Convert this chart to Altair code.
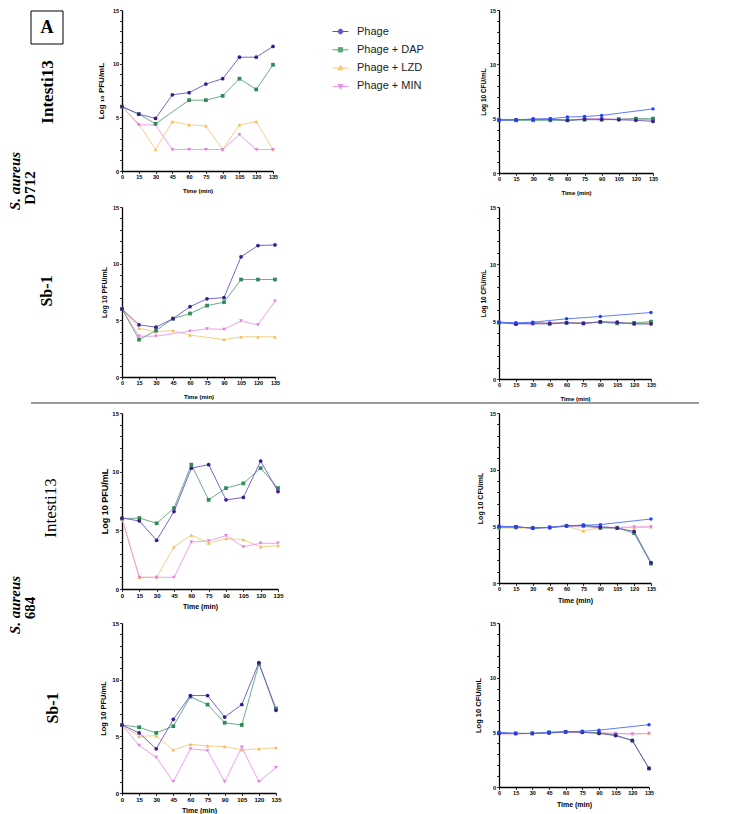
import altair as alt
import pandas as pd

TIMES = [0, 15, 30, 45, 60, 75, 90, 105, 120, 135]
SERIES = ["Phage", "Phage + DAP", "Phage + LZD", "Phage + MIN", "Control"]
LEGEND_SERIES = ["Phage", "Phage + DAP", "Phage + LZD", "Phage + MIN"]

# S. aureus D712 - Intesti13 (PFU)
D712_I13_PFU_PHAGE = [6.0, 5.3, 4.9, 7.1, 7.3, 8.1, 8.6, 10.6, 10.6, 11.6]
D712_I13_PFU_DAP = [6.0, 5.3, 4.4, None, 6.6, 6.6, 7.0, 8.6, 7.6, 9.9]
D712_I13_PFU_LZD = [6.0, 4.4, 2.0, 4.6, 4.3, 4.2, 2.0, 4.3, 4.6, 2.0]
D712_I13_PFU_MIN = [6.0, 4.3, 4.3, 2.0, 2.0, 2.0, 2.0, 3.4, 2.0, 2.0]
# S. aureus D712 - Intesti13 (CFU)
D712_I13_CFU_CTRL = [4.85, 4.9, 4.95, 5.0, 5.15, 5.2, 5.3, None, None, 5.9]
D712_I13_CFU_PHAGE = [4.9, 4.9, 4.95, 4.95, 4.85, 4.95, 4.95, 4.9, 4.85, 4.75]
D712_I13_CFU_DAP = [4.85, 4.85, 4.85, 4.85, 4.85, 4.9, 4.9, 4.95, 5.0, 5.0]
D712_I13_CFU_LZD = [4.9, 4.9, 4.9, 4.95, 4.9, 4.95, 4.9, 4.9, 4.95, 4.9]
D712_I13_CFU_MIN = [4.95, 4.9, 4.95, 4.95, 4.85, 5.0, 5.0, 4.95, 5.0, 4.85]
# S. aureus D712 - Sb-1 (PFU)
D712_SB1_PFU_PHAGE = [6.0, 4.6, 4.4, 5.15, 6.2, 6.9, 7.0, 10.6, 11.6, 11.65]
D712_SB1_PFU_DAP = [6.0, 3.3, 4.1, 5.15, 5.6, 6.3, 6.6, 8.6, 8.6, 8.6]
D712_SB1_PFU_LZD = [6.0, 4.3, 4.0, 4.1, 3.7, None, 3.3, 3.55, 3.55, 3.55]
D712_SB1_PFU_MIN = [6.0, 3.6, 3.6, None, 4.05, 4.25, 4.2, 4.95, 4.6, 6.7]
# S. aureus D712 - Sb-1 (CFU)
D712_SB1_CFU_CTRL = [4.95, 4.9, 4.95, None, 5.25, None, 5.45, None, None, 5.8]
D712_SB1_CFU_PHAGE = [4.95, 4.8, 4.9, 4.85, 4.9, 4.85, 5.0, 4.95, 4.8, 4.8]
D712_SB1_CFU_DAP = [4.9, 4.8, 4.85, 4.8, 4.9, 4.85, 4.95, 4.85, 4.9, 5.0]
D712_SB1_CFU_LZD = [4.9, 4.85, 4.85, 4.9, 4.9, 4.9, 4.95, 4.9, 4.85, 4.9]
D712_SB1_CFU_MIN = [4.95, 4.85, 4.75, 4.85, 4.9, 4.85, 4.95, 4.9, 4.8, 4.85]
# S. aureus 684 - Intesti13 (PFU)
A684_I13_PFU_PHAGE = [6.05, 5.8, 4.15, 6.6, 10.3, 10.6, 7.6, 7.8, 10.9, 8.3]
A684_I13_PFU_DAP = [6.0, 6.05, 5.6, 6.9, 10.6, 7.6, 8.6, 9.0, 10.3, 8.6]
A684_I13_PFU_LZD = [6.0, 1.0, 1.0, 3.6, 4.6, 3.9, 4.3, 4.2, 3.6, 3.7]
A684_I13_PFU_MIN = [6.0, 1.0, 1.0, 1.0, 4.0, 4.1, 4.55, 3.6, 3.9, 3.9]
# S. aureus 684 - Intesti13 (CFU)
A684_I13_CFU_CTRL = [5.0, 4.95, 4.85, 4.9, 5.05, 5.1, 5.15, None, None, 5.65]
A684_I13_CFU_PHAGE = [5.0, 4.95, 4.85, 4.9, 5.05, 5.1, 4.95, 4.85, 4.55, 1.8]
A684_I13_CFU_DAP = [4.9, 4.95, 4.85, 4.9, 5.05, 5.05, 4.85, 4.85, 4.4, 1.7]
A684_I13_CFU_LZD = [4.85, 4.85, 4.85, 4.9, 5.0, 4.6, 4.9, 4.85, 4.9, 4.95]
A684_I13_CFU_MIN = [4.9, 4.95, 4.85, 4.9, 5.0, 4.95, 4.95, 4.9, 4.95, 4.95]
# S. aureus 684 - Sb-1 (PFU)
A684_SB1_PFU_PHAGE = [6.0, 5.3, 3.9, 6.5, 8.6, 8.6, 6.7, 7.8, 11.5, 7.3]
A684_SB1_PFU_DAP = [6.0, 5.8, 5.3, 5.9, 8.5, 7.8, 6.2, 6.0, 11.4, 7.45]
A684_SB1_PFU_LZD = [6.0, 5.0, 5.05, 3.8, 4.3, 4.15, 4.1, 3.8, 3.9, 4.0]
A684_SB1_PFU_MIN = [6.0, 4.2, 3.15, 1.0, 3.9, 3.75, 1.0, 4.05, 1.0, 2.25]
# S. aureus 684 - Sb-1 (CFU)
A684_SB1_CFU_CTRL = [5.0, 4.9, 4.9, 5.0, 5.05, 5.1, 5.2, None, None, 5.7]
A684_SB1_CFU_PHAGE = [4.9, 4.9, 4.9, 4.95, 5.05, 5.0, 4.9, 4.7, 4.25, 1.7]
A684_SB1_CFU_DAP = [4.95, 4.9, 4.9, 5.0, 5.05, 5.05, 4.95, 4.75, 4.25, 1.7]
A684_SB1_CFU_LZD = [4.9, 4.9, 4.9, 4.95, 5.0, 5.0, 4.95, 4.9, 4.85, 4.9]
A684_SB1_CFU_MIN = [4.85, 4.85, 4.9, 4.95, 5.0, 5.0, 4.95, 4.9, 4.85, 4.9]

LINE_COL = {"Phage": "#6a55c4", "Phage + DAP": "#5aa57a", "Phage + LZD": "#f6c878",
            "Phage + MIN": "#ec95ec", "Control": "#4f6cff"}
PT_COL = {"Phage": "#3a1c8c", "Phage + DAP": "#2e8b57", "Phage + LZD": "#f3bb55",
          "Phage + MIN": "#e47ae4", "Control": "#1f40ff"}
SHAPE = {"Phage": "circle", "Phage + DAP": "square", "Phage + LZD": "triangle-up",
         "Phage + MIN": "triangle-down", "Control": "circle"}
DRAW_ORDER = ["Phage + LZD", "Phage + MIN", "Phage + DAP", "Phage", "Control"]

LEGEND_PATHS = [
    "M-1,0H1M-0.3,0A0.3,0.3 0 1,0 0.3,0A0.3,0.3 0 1,0 -0.3,0Z",
    "M-1,0H1M-0.27,-0.27H0.27V0.27H-0.27Z",
    "M-1,0H1M0,-0.34L0.32,0.22H-0.32Z",
    "M-1,0H1M0,0.34L0.32,-0.22H-0.32Z",
]


def frame(d):
    rows = []
    for s, vals in d.items():
        for t, v in zip(TIMES, vals):
            rows.append({"time": t, "value": v, "series": s})
    return pd.DataFrame(rows)


def panel(d, w, h, ytitle, ls, yts, ytp, xts, xtp, extra=()):
    df = frame(d)
    x = alt.X("time:Q", scale=alt.Scale(domain=[0, 135], nice=False),
              axis=alt.Axis(values=TIMES, tickSize=2.5, labelFontSize=ls, labelAngle=0,
                            labelFontWeight="bold", labelPadding=1, labelFlush=False,
                            title="Time (min)", titleFontSize=xts, titleFontWeight="bold",
                            titlePadding=xtp, domainWidth=1.3, tickWidth=0.8))
    y = alt.Y("value:Q", scale=alt.Scale(domain=[0, 15], nice=False),
              axis=alt.Axis(values=list(range(16)), tickSize=2.5, labelFontSize=ls,
                            labelFontWeight="bold", labelPadding=1,
                            labelExpr="datum.value % 5 === 0 ? datum.label : ''",
                            title=ytitle, titleFontSize=yts, titleFontWeight="bold",
                            titlePadding=ytp, domainWidth=1.3, tickWidth=0.8))
    layers = []
    for s in DRAW_ORDER:
        if s not in d:
            continue
        sub = df[df["series"] == s].dropna()
        base = alt.Chart(sub).encode(x=x, y=y)
        layers.append(base.mark_line(color=LINE_COL[s], strokeWidth=0.9))
        layers.append(base.mark_point(shape=SHAPE[s], filled=True, color=PT_COL[s],
                                      size=12 if s == "Control" else 14, opacity=1))
    layers.extend(extra)
    return alt.layer(*layers).properties(width=w, height=h)


def label(text, x, y, size, weight="bold", style="normal"):
    return alt.Chart(pd.DataFrame({"t": [text]})).mark_text(
        angle=270, align="center", baseline="middle", font="Liberation Serif",
        fontSize=size, fontWeight=weight, fontStyle=style, color="black"
    ).encode(x=alt.value(x), y=alt.value(y), text="t:N")


leg = alt.Legend(orient="none", legendX=210, legendY=13, title=None, symbolSize=256,
                 labelFontSize=11, labelFont="Liberation Sans", labelOffset=8,
                 rowPadding=4.3, symbolStrokeWidth=1, padding=0, labelColor="#222")
legend_layer = alt.Chart(pd.DataFrame({"series": LEGEND_SERIES})).transform_filter(
    "false").mark_point(filled=True, size=256, opacity=1, strokeWidth=1).encode(
    fill=alt.Fill("series:N", scale=alt.Scale(domain=LEGEND_SERIES,
                  range=[LINE_COL[s] for s in LEGEND_SERIES]), legend=leg),
    stroke=alt.Stroke("series:N", scale=alt.Scale(domain=LEGEND_SERIES,
                      range=[LINE_COL[s] for s in LEGEND_SERIES]), legend=leg),
    shape=alt.Shape("series:N", scale=alt.Scale(domain=LEGEND_SERIES, range=LEGEND_PATHS),
                    legend=leg),
)

box = alt.Chart(pd.DataFrame({"a": [0]})).mark_rect(
    fill="white", stroke="black", strokeWidth=1
).encode(x=alt.value(-91), x2=alt.value(-59), y=alt.value(1), y2=alt.value(34))
box_text = alt.Chart(pd.DataFrame({"t": ["A"]})).mark_text(
    font="Liberation Serif", fontSize=18, fontWeight="bold", align="center",
    baseline="middle", color="black"
).encode(x=alt.value(-75), y=alt.value(18), text="t:N")
divider = alt.Chart(pd.DataFrame({"a": [0]})).mark_rule(
    color="#7a7a7a", strokeWidth=1.5
).encode(x=alt.value(-91), x2=alt.value(577), y=alt.value(196))

p1 = panel({"Phage": D712_I13_PFU_PHAGE, "Phage + DAP": D712_I13_PFU_DAP,
            "Phage + LZD": D712_I13_PFU_LZD, "Phage + MIN": D712_I13_PFU_MIN},
           151, 161, "Log ₁₀ PFU/mL", 5.5, 8, 7, 6, 7,
           extra=[box, box_text, label("Intesti13", -74, 82, 17),
                  label("S. aureus", -107, 171, 15, style="italic"),
                  label("D712", -92, 178, 15), legend_layer])
p2 = panel({"Phage": D712_I13_CFU_PHAGE, "Phage + DAP": D712_I13_CFU_DAP,
            "Phage + LZD": D712_I13_CFU_LZD, "Phage + MIN": D712_I13_CFU_MIN,
            "Control": D712_I13_CFU_CTRL},
           154, 163, "Log 10 CFU/mL", 5.5, 6.5, 3, 6, 7)
p3 = panel({"Phage": D712_SB1_PFU_PHAGE, "Phage + DAP": D712_SB1_PFU_DAP,
            "Phage + LZD": D712_SB1_PFU_LZD, "Phage + MIN": D712_SB1_PFU_MIN},
           153, 170, "Log 10 PFU/mL", 5.5, 7, 5, 6, 7,
           extra=[label("Sb-1", -75, 84, 16), divider])
p4 = panel({"Phage": D712_SB1_CFU_PHAGE, "Phage + DAP": D712_SB1_CFU_DAP,
            "Phage + LZD": D712_SB1_CFU_LZD, "Phage + MIN": D712_SB1_CFU_MIN,
            "Control": D712_SB1_CFU_CTRL},
           152, 172, "Log 10 CFU/mL", 5.5, 6.5, 3, 6, 7)
p5 = panel({"Phage": A684_I13_PFU_PHAGE, "Phage + DAP": A684_I13_PFU_DAP,
            "Phage + LZD": A684_I13_PFU_LZD, "Phage + MIN": A684_I13_PFU_MIN},
           156, 176, "Log 10 PFU/mL", 6, 9, 2, 7, 4,
           extra=[label("Intesti13", -71, 95, 17, weight="normal"),
                  label("S. aureus", -107, 192, 15, style="italic"),
                  label("684", -92, 195, 15)])
p6 = panel({"Phage": A684_I13_CFU_PHAGE, "Phage + DAP": A684_I13_CFU_DAP,
            "Phage + LZD": A684_I13_CFU_LZD, "Phage + MIN": A684_I13_CFU_MIN,
            "Control": A684_I13_CFU_CTRL},
           152, 170, "Log 10 CFU/mL", 5.5, 7, 6, 7, 4)
p7 = panel({"Phage": A684_SB1_PFU_PHAGE, "Phage + DAP": A684_SB1_PFU_DAP,
            "Phage + LZD": A684_SB1_PFU_LZD, "Phage + MIN": A684_SB1_PFU_MIN},
           154, 170, "Log 10 PFU/mL", 6, 7.5, 4, 7, 4,
           extra=[label("Sb-1", -69, 85, 16)])
p8 = panel({"Phage": A684_SB1_CFU_PHAGE, "Phage + DAP": A684_SB1_CFU_DAP,
            "Phage + LZD": A684_SB1_CFU_LZD, "Phage + MIN": A684_SB1_CFU_MIN,
            "Control": A684_SB1_CFU_CTRL},
           150, 164, "Log 10 CFU/mL", 5.5, 7.5, 7, 7, 4)

chart = alt.concat(p1, p2, p3, p4, p5, p6, p7, p8, columns=2, bounds="flush",
                   spacing={"row": 34, "column": 221}).properties(
    padding={"left": 0, "top": 0, "right": 5, "bottom": 0}
).configure_view(stroke=None).configure_axis(
    grid=False, domainColor="black", tickColor="black", labelColor="black",
    titleColor="black", labelFont="Liberation Sans", titleFont="Liberation Sans"
)

chart.save("out.html", embed_options={"renderer": "svg", "actions": False})
